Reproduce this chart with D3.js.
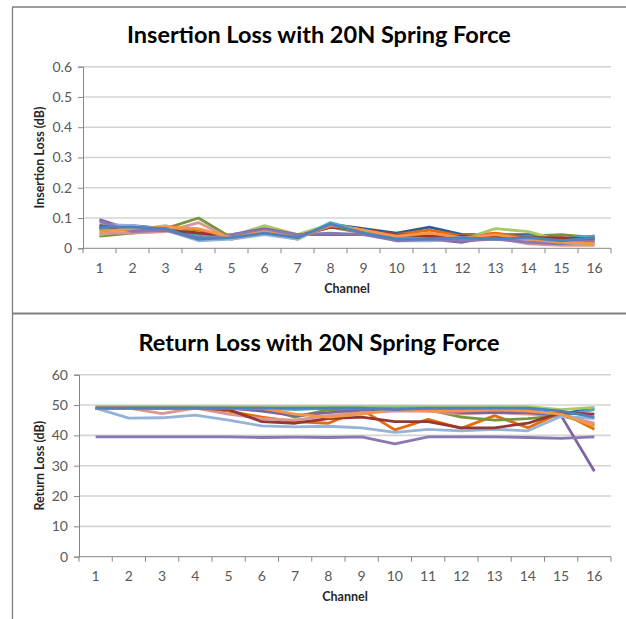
<!DOCTYPE html>
<html>
<head>
<meta charset="utf-8">
<script src="https://cdn.jsdelivr.net/npm/d3@7"></script>
<style>
  body { margin: 0; background: #fff; }
  svg { display: block; font-family: Lato, "Open Sans", sans-serif; }
</style>
</head>
<body>
<svg id="chart" width="626" height="619"></svg>
<script>
// categories
const channels = ["1","2","3","4","5","6","7","8","9","10","11","12","13","14","15","16"];

// Insertion loss (dB), one array per sample
const ilDarkBlue    = [0.065,0.075,0.065,0.05,0.04,0.06,0.04,0.08,0.065,0.05,0.07,0.045,0.045,0.045,0.03,0.04];
const ilOrange      = [0.07,0.065,0.07,0.06,0.035,0.055,0.035,0.075,0.06,0.045,0.06,0.04,0.05,0.035,0.03,0.02];
const ilOlive       = [0.04,0.05,0.065,0.1,0.035,0.06,0.04,0.07,0.05,0.045,0.045,0.035,0.04,0.04,0.045,0.035];
const ilLightGreen  = [0.045,0.06,0.075,0.04,0.04,0.075,0.045,0.08,0.06,0.035,0.045,0.03,0.065,0.055,0.025,0.02];
const ilPink        = [0.05,0.05,0.055,0.085,0.03,0.055,0.04,0.075,0.055,0.03,0.035,0.03,0.035,0.015,0.01,0.01];
const ilPurple      = [0.095,0.06,0.06,0.035,0.045,0.065,0.045,0.045,0.045,0.04,0.03,0.02,0.04,0.03,0.02,0.03];
const ilTeal        = [0.06,0.07,0.065,0.045,0.03,0.05,0.03,0.085,0.055,0.04,0.035,0.04,0.035,0.035,0.03,0.04];
const ilLightBlue   = [0.08,0.075,0.06,0.025,0.03,0.045,0.03,0.08,0.05,0.025,0.025,0.03,0.03,0.03,0.015,0.015];
const ilDarkRed     = [0.075,0.06,0.06,0.05,0.04,0.055,0.04,0.07,0.06,0.045,0.04,0.04,0.04,0.035,0.035,0.03];
const ilLavender    = [0.09,0.055,0.06,0.03,0.045,0.06,0.045,0.05,0.045,0.025,0.03,0.025,0.03,0.02,0.015,0.025];
const ilLightOrange = [0.055,0.065,0.07,0.065,0.035,0.055,0.035,0.075,0.06,0.04,0.05,0.035,0.045,0.03,0.02,0.015];
const ilBlue        = [0.07,0.07,0.065,0.03,0.035,0.05,0.035,0.08,0.05,0.03,0.03,0.035,0.03,0.035,0.025,0.035];

// Return loss (dB)
const rlDarkBlue    = [49,49,49,49,49,49,49,49,49,49,49,49,48.5,48,47,49];
const rlOrange      = [49,49,49,49,48,46,44.5,44,48.5,41.8,45.3,42.3,46.5,42.5,47.5,42];
const rlOlive       = [49,49,49,49,49,49,46,48.5,47.5,48.5,48.5,46,45,45.5,46.5,43.5];
const rlLightGreen  = [49.5,49.5,49.5,49.5,49.5,49.5,49.5,49.5,49.5,49.5,49.5,49.5,49.5,49.5,48.5,49.2];
const rlPink        = [49,49,47.2,49,47,45.5,45,46.5,47.5,48,48,47,47.5,47,46.5,44];
const rlPurple      = [49,49,49,49,49,48,46.5,47.5,48.5,48.5,48.5,47.5,47.5,47.5,46.5,28.2];
const rlTeal        = [49,49,49,49,49,49,48.5,49,49,49,49,48.5,49,48.5,46.5,48.5];
const rlLightBlue   = [49,45.7,45.8,46.7,45,43.1,42.8,43,42.5,41,42,41.5,42,41.5,46.3,45.5];
const rlDarkRed     = [49,49,49,49,48.5,44.5,44,45.5,46,44.5,44.5,42.5,42.5,44,47.5,47];
const rlLavender    = [39.5,39.5,39.5,39.5,39.5,39.3,39.4,39.3,39.5,37.2,39.5,39.5,39.5,39.3,39,39.5];
const rlLightOrange = [49,49,49,49,49,49,47,46,47,48.5,48,48,48.5,48,47,43];
const rlBlue        = [49,49,49,49,49,49,49,49,49,48.5,49,49,49,49,48,46];

// tick labels
const ilTicks = [0, 0.1, 0.2, 0.3, 0.4, 0.5, 0.6];
const rlTicks = [0, 10, 20, 30, 40, 50, 60];

const colors = ["#2c5d98","#e46c0a","#77933c","#a9c86a","#d99694","#8064a2",
                "#4bacc6","#95b3d7","#953735","#8a78b3","#f79646","#4f81bd"];

const ilSeries = [ilDarkBlue, ilOrange, ilOlive, ilLightGreen, ilPink, ilPurple,
                  ilTeal, ilLightBlue, ilDarkRed, ilLavender, ilLightOrange, ilBlue];
const rlSeries = [rlDarkBlue, rlOrange, rlOlive, rlLightGreen, rlPink, rlPurple,
                  rlTeal, rlLightBlue, rlDarkRed, rlLavender, rlLightOrange, rlBlue];

const svg = d3.select('#chart');

// Frame lines round the two panels
const frame = svg.append('g').attr('stroke', '#7f7f7f').attr('stroke-width', 1.3);
frame.append('line').attr('x1', 12.5).attr('x2', 12.5).attr('y1', 7).attr('y2', 619);
frame.append('line').attr('x1', 12).attr('x2', 626).attr('y1', 7).attr('y2', 7);
frame.append('line').attr('x1', 12).attr('x2', 626).attr('y1', 313.5).attr('y2', 313.5)
    .attr('stroke-width', 2);

function drawPanel(opts) {
    const g = svg.append('g');

    const x = d3.scaleBand()
        .domain(channels)
        .range([opts.left, opts.right]);

    const y = d3.scaleLinear()
        .domain([0, d3.max(opts.ticks)])
        .range([opts.bottom, opts.top]);

    // Title
    g.append('text')
        .attr('x', 319)
        .attr('y', opts.titleY)
        .attr('text-anchor', 'middle')
        .style('font-size', '23.5px')
        .style('font-weight', 'bold')
        .attr('fill', '#000')
        .text(opts.title);

    // Gridlines
    g.append('g')
        .selectAll('line')
        .data(opts.ticks.filter(d => d > 0))
        .join('line')
        .attr('x1', opts.left)
        .attr('x2', opts.right)
        .attr('y1', d => y(d))
        .attr('y2', d => y(d))
        .attr('stroke', '#d4d4d4')
        .attr('stroke-width', 1.6);

    // Y axis
    const yAxis = d3.axisLeft(y)
        .tickValues(opts.ticks)
        .tickSize(5)
        .tickPadding(6)
        .tickFormat(d => String(d));

    const ya = g.append('g')
        .attr('transform', `translate(${opts.left},0)`)
        .call(yAxis);
    ya.select('.domain').attr('stroke', '#868686');
    ya.selectAll('.tick line').attr('stroke', '#868686');
    ya.selectAll('text')
        .attr('fill', '#595959')
        .style('font-size', '14px')
        .style('font-family', 'Lato, sans-serif');

    // X axis: line, ticks at category boundaries, centred labels
    g.append('line')
        .attr('x1', opts.left).attr('x2', opts.right)
        .attr('y1', opts.bottom).attr('y2', opts.bottom)
        .attr('stroke', '#868686');

    g.append('g')
        .selectAll('line')
        .data(channels.concat(['end']))
        .join('line')
        .attr('x1', d => d === 'end' ? opts.right : x(d))
        .attr('x2', d => d === 'end' ? opts.right : x(d))
        .attr('y1', opts.bottom)
        .attr('y2', opts.bottom + 5)
        .attr('stroke', '#868686');

    g.append('g')
        .selectAll('text')
        .data(channels)
        .join('text')
        .attr('x', d => x(d) + x.bandwidth() / 2)
        .attr('y', opts.bottom + 24.5)
        .attr('text-anchor', 'middle')
        .attr('fill', '#595959')
        .style('font-size', '14px')
        .text(d => d);

    // Axis titles
    g.append('text')
        .attr('x', (opts.left + opts.right) / 2)
        .attr('y', opts.bottom + 44.5)
        .attr('text-anchor', 'middle')
        .style('font-size', '12.5px')
        .style('font-weight', 'bold')
        .attr('fill', '#262626')
        .text('Channel');

    g.append('text')
        .attr('transform', `translate(44,${(opts.top + opts.bottom) / 2}) rotate(-90)`)
        .attr('text-anchor', 'middle')
        .style('font-size', '12.5px')
        .style('font-weight', 'bold')
        .attr('fill', '#262626')
        .text(opts.yTitle);

    // Series lines
    const line = d3.line()
        .x((d, i) => x(channels[i]) + x.bandwidth() / 2)
        .y(d => y(d));

    g.append('g')
        .selectAll('path')
        .data(opts.series)
        .join('path')
        .attr('d', line)
        .attr('fill', 'none')
        .attr('stroke', (d, i) => colors[i])
        .attr('stroke-width', 2.8)
        .attr('stroke-linejoin', 'round');
}

drawPanel({
    title: 'Insertion Loss with 20N Spring Force',
    yTitle: 'Insertion Loss (dB)',
    titleY: 43,
    left: 83, right: 611, top: 66.7, bottom: 248.3,
    ticks: ilTicks,
    series: ilSeries
});

drawPanel({
    title: 'Return Loss with 20N Spring Force',
    yTitle: 'Return Loss (dB)',
    titleY: 351,
    left: 79, right: 611, top: 374.7, bottom: 556.7,
    ticks: rlTicks,
    series: rlSeries
});
</script>
</body>
</html>
